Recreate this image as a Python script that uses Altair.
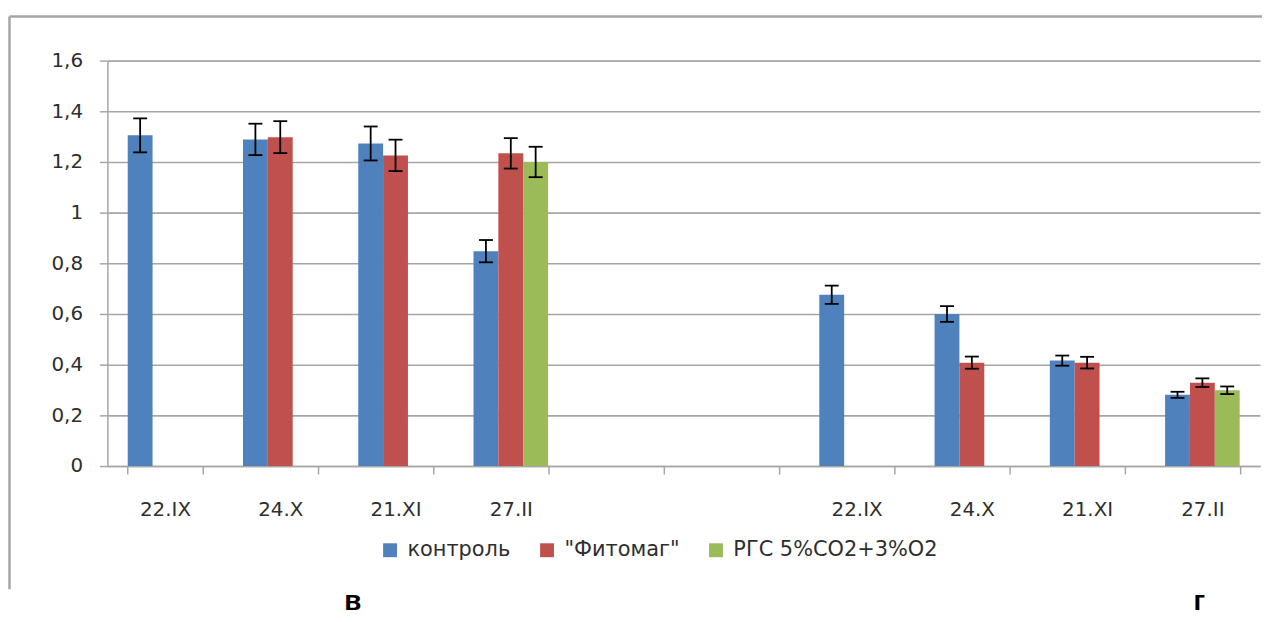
import json
import altair as alt
import pandas as pd

# ---------------- data ----------------
dates = ["22.IX", "24.X", "21.XI", "27.II"]
series = ["контроль", "\"Фитомаг\"", "РГС 5%CO2+3%O2"]
colors = ["#4F81BD", "#C0504D", "#9BBB59"]

# panel "в"
v_control = [1.305, 1.289, 1.273, 0.848]
e_control = [0.067, 0.062, 0.067, 0.044]
v_fito = [None, 1.298, 1.226, 1.234]
e_fito = [None, 0.063, 0.062, 0.060]
v_rgs = [None, None, None, 1.200]
e_rgs = [None, None, None, 0.060]

# panel "г"
g_control = [0.676, 0.600, 0.416, 0.281]
ge_control = [0.036, 0.031, 0.020, 0.012]
g_fito = [None, 0.408, 0.408, 0.329]
ge_fito = [None, 0.024, 0.023, 0.017]
g_rgs = [None, None, None, 0.299]
ge_rgs = [None, None, None, 0.015]

slot_labels = dates + ["", ""] + dates
panel_letters = ["в", "г"]

rows = []
panel_sets = [
    (0, [(v_control, e_control), (v_fito, e_fito), (v_rgs, e_rgs)]),
    (6, [(g_control, ge_control), (g_fito, ge_fito), (g_rgs, ge_rgs)]),
]
for start, sets in panel_sets:
    for s_name, (vals, errs) in zip(series, sets):
        for i, (v, e) in enumerate(zip(vals, errs)):
            if v is None:
                continue
            rows.append({"slot": start + i, "series": s_name, "value": v, "err": e})
df = pd.DataFrame(rows)

# ---------------- encodings ----------------
FONT = "DejaVu Sans"
TEXT = "#2e2e2e"
GRID = "#a6a6a6"

x_enc = alt.X(
    "slot:O",
    scale=alt.Scale(domain=list(range(10)), paddingInner=0.353, paddingOuter=0.1765),
    axis=alt.Axis(
        title=None,
        tickBand="extent",
        labelExpr=json.dumps(slot_labels) + "[datum.value]",
        labelAngle=0,
        labelFontSize=20,
        labelColor=TEXT,
        labelPadding=26,
        tickSize=8,
        tickColor=GRID,
        tickWidth=1.5,
        domainColor=GRID,
        domainWidth=1.5,
        grid=False,
    ),
)
xo_enc = alt.XOffset("series:N", scale=alt.Scale(domain=series))
y_scale = alt.Scale(domain=[0, 1.6], nice=False)
y_axis = alt.Axis(
    title=None,
    values=[0, 0.2, 0.4, 0.6, 0.8, 1.0, 1.2, 1.4, 1.6],
    labelExpr="replace(format(datum.value, '~g'), '.', ',')",
    labelFontSize=20,
    labelColor=TEXT,
    labelPadding=17,
    tickSize=8,
    tickColor=GRID,
    tickWidth=1.5,
    domainColor=GRID,
    domainWidth=1.5,
    grid=True,
    gridColor=GRID,
    gridWidth=1.6,
)

base = alt.Chart(df)

bars = base.mark_bar().encode(
    x=x_enc,
    xOffset=xo_enc,
    y=alt.Y("value:Q", scale=y_scale, axis=y_axis),
    color=alt.Color(
        "series:N",
        scale=alt.Scale(domain=series, range=colors),
        legend=alt.Legend(
            title=None,
            orient="none",
            legendX=274,
            legendY=482,
            direction="horizontal",
            symbolType="square",
            symbolSize=196,
            symbolStrokeWidth=0,
            symbolOpacity=1,
            labelFontSize=21,
            labelColor=TEXT,
            labelOffset=7,
            labelLimit=400,
            columnPadding=26,
            padding=0,
        ),
    ),
)

err_base = base.transform_calculate(
    lo="datum.value - datum.err", hi="datum.value + datum.err"
)
err_rule = err_base.mark_rule(color="black", strokeWidth=1.8).encode(
    x=x_enc,
    xOffset=xo_enc,
    y=alt.Y("lo:Q", scale=y_scale, axis=y_axis),
    y2="hi:Q",
)
cap_hi = err_base.mark_tick(color="black", thickness=1.8, size=14, opacity=1).encode(
    x=x_enc, xOffset=xo_enc, y=alt.Y("hi:Q", scale=y_scale, axis=y_axis)
)
cap_lo = err_base.mark_tick(color="black", thickness=1.8, size=14, opacity=1).encode(
    x=x_enc, xOffset=xo_enc, y=alt.Y("lo:Q", scale=y_scale, axis=y_axis)
)

# decorative frame around the whole figure
one = alt.Data(values=[{}])
frame_top = alt.Chart(one).mark_rule(color=GRID, strokeWidth=2.5).encode(
    x=alt.value(-98.5), x2=alt.value(1170), y=alt.value(-44.5)
)
frame_left = alt.Chart(one).mark_rule(color=GRID, strokeWidth=2.5).encode(
    x=alt.value(-98.5), y=alt.value(-44.5), y2=alt.value(532)
)

# panel letters under the chart
letters = alt.Chart(alt.Data(values=[{"t": panel_letters[0]}])).mark_text(
    font="Liberation Sans", fontSize=28, fontWeight="bold", color="black",
    baseline="alphabetic", align="center"
).encode(text="t:N", x=alt.value(247), y=alt.value(553))
letters2 = alt.Chart(alt.Data(values=[{"t": panel_letters[1]}])).mark_text(
    font="Liberation Sans", fontSize=28, fontWeight="bold", color="black",
    baseline="alphabetic", align="center"
).encode(text="t:N", x=alt.value(1099), y=alt.value(553))

chart = (
    alt.layer(frame_top, frame_left, bars, err_rule, cap_hi, cap_lo, letters, letters2)
    .properties(
        width=1160,
        height=408,
        autosize=alt.AutoSizeParams(type="none"),
        padding={"left": 100, "top": 51, "right": 2, "bottom": 153},
    )
    .configure(font=FONT)
    .configure_view(stroke=None)
)

chart.save("out.html", embed_options={"renderer": "svg", "actions": False})
